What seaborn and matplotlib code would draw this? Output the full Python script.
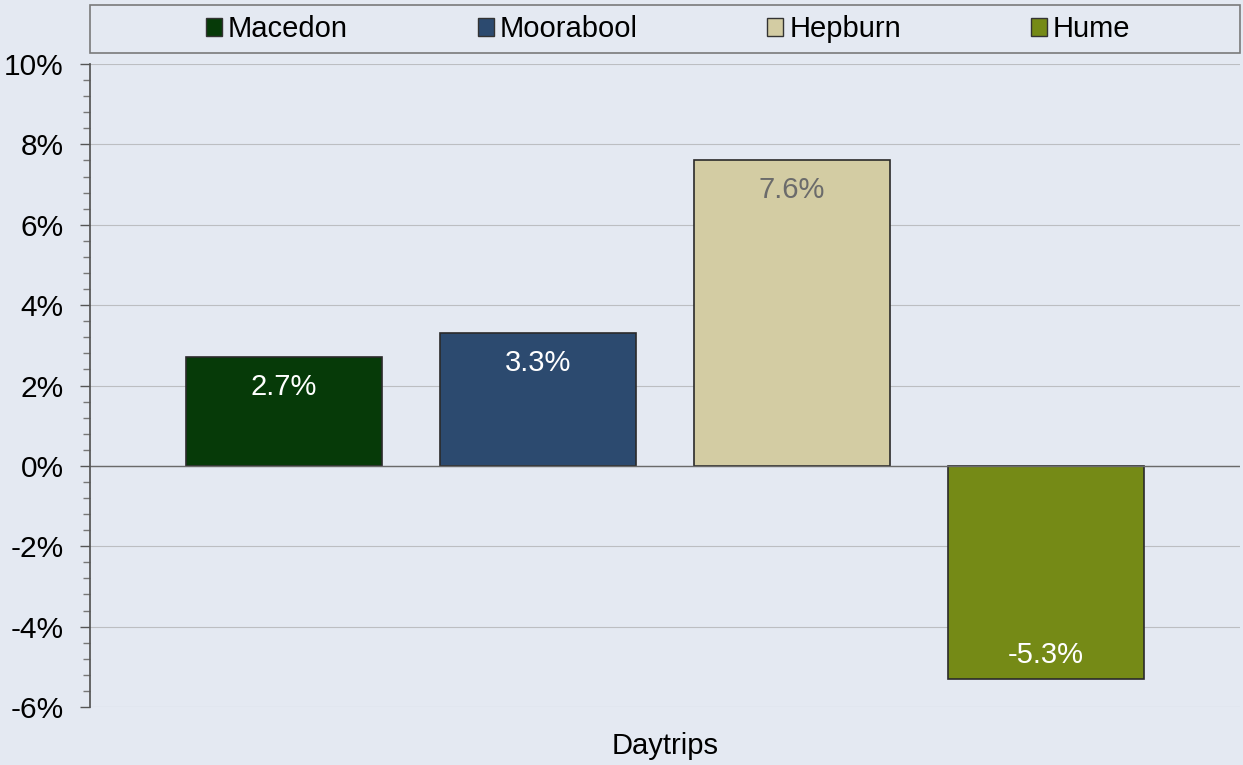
import pandas as pd
import matplotlib.pyplot as plt
import matplotlib.ticker as mticker
import seaborn as sns

regions = ["Macedon", "Moorabool", "Hepburn", "Hume"]
growth = [2.7, 3.3, 7.6, -5.3]
category = ["Daytrips"] * 4
colors = ["#063a08", "#2c4a6f", "#d3cca3", "#758a16"]
label_colors = ["white", "white", "#6b6b6b", "white"]

df = pd.DataFrame({"category": category, "region": regions, "growth": growth})

sns.set_theme(style="white")
plt.rcParams["font.family"] = ["Liberation Sans", "DejaVu Sans"]

bg = "#e4e9f2"
fig = plt.figure(figsize=(12.43, 7.65), dpi=100, facecolor=bg)
ax = fig.add_axes([0.0724, 0.0758, 0.925, 0.8405])
ax.set_facecolor(bg)

sns.barplot(data=df, x="category", y="growth", hue="region", hue_order=regions,
            palette=colors, width=0.884, gap=0.23, ax=ax, legend=False,
            edgecolor="#2a2a2a", linewidth=1.2, saturation=1)

ax.set_ylim(-6, 10)
ax.yaxis.set_major_locator(mticker.MultipleLocator(2))
ax.yaxis.set_minor_locator(mticker.MultipleLocator(0.4))
ax.yaxis.set_major_formatter(mticker.FuncFormatter(lambda v, p: f"{v:.0f}%"))
ax.tick_params(axis="y", which="major", length=7, width=1, color="#555555",
               labelsize=21.5, labelcolor="black", direction="out", left=True, pad=12)
ax.tick_params(axis="y", which="minor", length=5, width=1, color="#777777", left=True)
ax.grid(axis="y", which="major", color="#bcbec2", linewidth=0.8)
ax.set_axisbelow(True)
ax.axhline(0, color="#6a6a6a", linewidth=1)

for s in ["top", "right", "bottom"]:
    ax.spines[s].set_visible(False)
ax.spines["left"].set_color("#555555")

ax.set_xlabel("Daytrips", fontsize=21, labelpad=18, color="black")
ax.set_ylabel("")
ax.set_xticks([])

for bar, val, lc in zip(ax.patches, growth, label_colors):
    x = bar.get_x() + bar.get_width() / 2
    off = -21.5 if val >= 0 else 17
    ax.annotate(f"{val:.1f}%", (x, val), xytext=(0, off), textcoords="offset points",
                ha="center", va="center", fontsize=21, color=lc)

# legend box spanning the plot width
frame = plt.Rectangle((0.0724, 0.9307), 0.925, 0.0627, transform=fig.transFigure,
                      facecolor=bg, edgecolor="#7a7a7a", linewidth=1.2)
fig.add_artist(frame)

handles = [plt.Rectangle((0, 0), 1, 1, facecolor=c, edgecolor="#333333") for c in colors]
leg = fig.legend(handles, regions, loc="center", bbox_to_anchor=(0.5375, 0.962),
                 ncol=4, frameon=False, fontsize=21, handlelength=0.55,
                 handleheight=0.55, handletextpad=0.2, columnspacing=4.45,
                 labelcolor="black", borderaxespad=0)

fig.savefig("out.png", dpi=100, facecolor=bg)
